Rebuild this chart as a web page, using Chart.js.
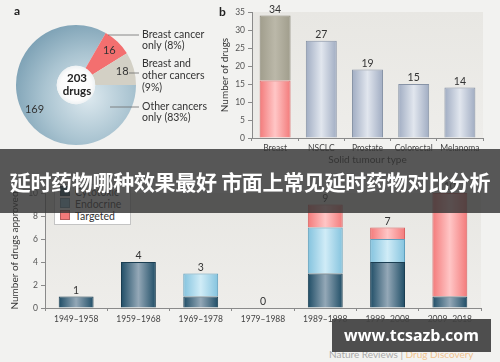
<!DOCTYPE html>
<html>
<head>
<meta charset="utf-8">
<script src="https://cdn.jsdelivr.net/npm/chart.js@4.4.1/dist/chart.umd.min.js"></script>
<style>
  body { margin: 0; width: 500px; height: 362px; background: #f2f2f0; position: relative; overflow: hidden; font-family: Lato, "Open Sans", sans-serif; color: #333; }
  canvas { position: absolute; }
  #pie { left: 0; top: 0; }
  #types { left: 210px; top: 0; }
  #decades { left: 0; top: 150px; }
  .tag { position: absolute; font-weight: bold; font-size: 12px; color: #222; }
  #legend { position: absolute; left: 54px; top: 184px; width: 70px; padding: 1px 0 2px 5px; background: #fff; border: 1px solid #c4c4c4; font-size: 10.5px; line-height: 12px; }
  #legend span.sw { display: inline-block; width: 8px; height: 8px; margin-right: 5px; vertical-align: -0px; border: 1px solid rgba(0,0,0,0.25); }
  #banner { position: absolute; left: 0; top: 149px; width: 500px; height: 64px; background: rgba(52,52,52,0.82); color: #fff; font-family: "Noto Sans CJK SC", sans-serif; font-weight: bold; font-size: 21px; line-height: 64px; text-align: center; white-space: nowrap; letter-spacing: -0.3px; }
  #source { position: absolute; left: 329px; top: 348px; font-size: 10px; color: #a9a9a9; white-space: nowrap; }
  #source b { font-weight: normal; color: #f0c28e; }
  #mark { position: absolute; left: 332px; top: 319px; width: 159px; height: 33px; background: rgba(66,66,66,0.93); color: #fff; font-family: "Open Sans", sans-serif; font-weight: bold; font-size: 16px; line-height: 33px; text-align: center; }
</style>
</head>
<body>
<canvas id="pie" width="215" height="150"></canvas>
<canvas id="types" width="290" height="170"></canvas>
<canvas id="decades" width="500" height="180"></canvas>
<div class="tag" style="left:14px;top:3px;">a</div>
<div class="tag" style="left:219px;top:4px;">b</div>
<div id="legend"></div>
<div id="source">Nature Reviews | <b>Drug Discovery</b></div>
<div id="banner">延时药物哪种效果最好 市面上常见延时药物对比分析</div>
<div id="mark">www.tcsazb.com</div>

<script>
// panel a
const pieLabels = ['Other cancers only (83%)', 'Breast cancer only (8%)', 'Breast and other cancers (9%)'];
const pieValues = [169, 16, 18];

// panel b
const tumourTypes = ['Breast', 'NSCLC', 'Prostate', 'Colorectal', 'Melanoma'];
const tumourDrugs = [16, 27, 19, 15, 14];   // breast: breast-only part
const tumourShared = [18, 0, 0, 0, 0];      // breast and other cancers
const typeTicks = [0, 5, 10, 15, 20, 25, 30, 35];

// panel c
const decades = ['1949–1958', '1959–1968', '1969–1978', '1979–1988', '1989–1998', '1999–2008', '2009–2018'];
const drugClasses = ['Cytotoxic', 'Endocrine', 'Targeted'];
const cytotoxic = [1, 4, 1, 0, 3, 4, 1];
const endocrine = [0, 0, 2, 0, 4, 2, 0];
const targeted = [0, 0, 0, 0, 2, 1, 9];
const decadeTicks = [0, 2, 4, 6, 8, 10];

Chart.defaults.font.family = 'Lato, "Open Sans", sans-serif';
Chart.defaults.color = '#444';

const STEEL = ['#a0acc2', '#e1e6ee', '#8793a6'];
const PINK = ['#f37a7a', '#ffc6c6', '#d96262'];
const OLIVE = ['#a09d8c', '#bbb8a9', '#878473'];
const DARK = ['#1f4d66', '#94a8b7', '#1b3e52'];
const LIGHT = ['#84c3de', '#d0ecf7', '#5f9fbd'];
const classColors = [DARK, LIGHT, PINK];

function barFill(ctx, colors, frac) {
  const chart = ctx.chart;
  const xs = chart.scales.x;
  if (!chart.chartArea || !xs) return colors[0];
  const cx = xs.getPixelForValue(ctx.dataIndex);
  const w = xs.width / chart.data.labels.length * frac;
  const g = chart.ctx.createLinearGradient(cx - w / 2, 0, cx + w / 2, 0);
  g.addColorStop(0, colors[0]);
  g.addColorStop(0.5, colors[1]);
  g.addColorStop(1, colors[0]);
  return g;
}

const plotBack = {
  id: 'plotBack',
  beforeDraw(chart) {
    const a = chart.chartArea;
    const c = chart.ctx;
    const g = c.createLinearGradient(0, a.top, 0, a.bottom);
    g.addColorStop(0, '#e8e7e3');
    g.addColorStop(1, '#eeedea');
    c.save();
    c.fillStyle = g;
    c.fillRect(a.left, a.top, a.width, a.height);
    c.restore();
  }
};

const totals = {
  id: 'totals',
  afterDatasetsDraw(chart, args, opts) {
    const { ctx, scales: { x, y } } = chart;
    ctx.save();
    ctx.font = opts.size + 'px Lato, "Open Sans", sans-serif';
    ctx.fillStyle = '#333';
    ctx.textAlign = 'center';
    ctx.textBaseline = 'alphabetic';
    chart.data.labels.forEach((l, i) => {
      const total = chart.data.datasets.reduce((s, d) => s + (d.data[i] || 0), 0);
      ctx.fillText(String(total), x.getPixelForValue(i), y.getPixelForValue(total) - opts.gap);
    });
    ctx.restore();
  }
};

// ---------- a: doughnut ----------
const pieText = {
  id: 'pieText',
  afterDatasetsDraw(chart) {
    const ctx = chart.ctx;
    const arcs = chart.getDatasetMeta(0).data;
    const first = arcs[0];
    ctx.save();
    // white hole
    const hole = ctx.createRadialGradient(first.x, first.y, 0, first.x, first.y, first.innerRadius);
    hole.addColorStop(0, '#ffffff');
    hole.addColorStop(0.8, '#fbfbfb');
    hole.addColorStop(1, '#eef2f4');
    ctx.fillStyle = hole;
    ctx.beginPath();
    ctx.arc(first.x, first.y, first.innerRadius, 0, Math.PI * 2);
    ctx.fill();

    ctx.fillStyle = '#222';
    ctx.textAlign = 'center';
    ctx.textBaseline = 'middle';
    ctx.font = 'bold 11.5px Lato, sans-serif';
    ctx.fillText('203', first.x + 1, first.y - 7);
    ctx.fillText('drugs', first.x + 1, first.y + 6);

    ctx.font = '11px Lato, sans-serif';
    ctx.fillStyle = '#333';
    arcs.forEach((arc, i) => {
      const mid = (arc.startAngle + arc.endAngle) / 2;
      const r = arc.outerRadius * 0.8;
      ctx.fillText(String(pieValues[i]), arc.x + Math.cos(mid) * r, arc.y + Math.sin(mid) * r);
    });

    // callouts
    ctx.strokeStyle = '#6d6d6d';
    ctx.lineWidth = 0.8;
    const lines = [[108, 35, 139, 35], [129, 73, 139, 73], [110, 107, 139, 107]];
    lines.forEach(l => { ctx.beginPath(); ctx.moveTo(l[0], l[1]); ctx.lineTo(l[2], l[3]); ctx.stroke(); });
    ctx.textAlign = 'left';
    ctx.font = '10.5px Lato, sans-serif';
    const notes = [
      ['Breast cancer', 35], ['only (8%)', 46],
      ['Breast and', 64], ['other cancers', 76], ['(9%)', 88],
      ['Other cancers', 107], ['only (83%)', 118]
    ];
    notes.forEach(n => ctx.fillText(n[0], 142, n[1]));
    ctx.restore();
  }
};

function pieFill(ctx) {
  const chart = ctx.chart;
  const a = chart.chartArea;
  if (!a) return '#9fbccb';
  if (ctx.dataIndex === 1) return '#f36f6f';
  if (ctx.dataIndex === 2) return '#d3d0c5';
  const cx = (a.left + a.right) / 2, cy = (a.top + a.bottom) / 2;
  const g = chart.ctx.createRadialGradient(cx + 12, cy + 12, 0, cx + 12, cy + 12, 80);
  g.addColorStop(0, '#dde9ef');
  g.addColorStop(0.55, '#aac4d1');
  g.addColorStop(1, '#7a9fb3');
  return g;
}

new Chart(document.getElementById('pie'), {
  type: 'doughnut',
  data: {
    labels: pieLabels,
    datasets: [{ data: pieValues, backgroundColor: pieFill, borderWidth: 0 }]
  },
  options: {
    responsive: false,
    animation: false,
    rotation: 90,
    cutout: '32%',
    layout: { padding: { left: 16, top: 25, right: 79, bottom: 5 } },
    plugins: { legend: { display: false }, tooltip: { enabled: false } }
  },
  plugins: [pieText]
});

// ---------- b: drugs per tumour type ----------
const axisGrid = { display: true, drawOnChartArea: false, color: '#8a8a8a', tickLength: 4 };
const axisBorder = { display: true, color: '#8a8a8a', width: 1 };

new Chart(document.getElementById('types'), {
  type: 'bar',
  data: {
    labels: tumourTypes,
    datasets: [{
      label: 'Drugs',
      data: tumourDrugs,
      backgroundColor: c => barFill(c, c.dataIndex === 0 ? PINK : STEEL, 0.67),
      borderColor: c => (c.dataIndex === 0 ? PINK : STEEL)[2],
      borderWidth: 1,
      barPercentage: 0.67,
      categoryPercentage: 1
    }, {
      label: 'Breast and other cancers',
      data: tumourShared,
      backgroundColor: c => barFill(c, OLIVE, 0.67),
      borderColor: OLIVE[2],
      borderWidth: c => (c.raw ? 1 : 0),
      barPercentage: 0.67,
      categoryPercentage: 1
    }]
  },
  options: {
    responsive: false,
    animation: false,
    layout: { padding: { top: 12, right: 17, left: 0, bottom: 0 } },
    scales: {
      x: {
        stacked: true,
        grid: { display: true, drawOnChartArea: false, color: '#8a8a8a', tickLength: 3 },
        border: axisBorder,
        ticks: { font: { size: 8.5 }, color: '#444', padding: 2, maxRotation: 0, autoSkip: false },
        title: { display: true, text: 'Solid tumour type', font: { size: 10 }, color: '#333', padding: { top: 0, bottom: 4 } },
        afterFit: s => { s.height = 32; }
      },
      y: {
        stacked: true,
        min: 0,
        max: 35,
        afterBuildTicks: s => { s.ticks = typeTicks.map(v => ({ value: v })); },
        grid: axisGrid,
        border: axisBorder,
        ticks: { font: { size: 8.5 }, color: '#555', padding: 3 },
        title: { display: true, text: 'Number of drugs', font: { size: 10 }, color: '#333', padding: { top: 9, bottom: 0 } },
        afterFit: s => { s.width = 42; }
      }
    },
    plugins: { legend: { display: false }, tooltip: { enabled: false }, totals: { size: 10.5, gap: 3 } }
  },
  plugins: [plotBack, totals]
});

// ---------- c: approvals by decade ----------
const classSeries = [cytotoxic, endocrine, targeted];

new Chart(document.getElementById('decades'), {
  type: 'bar',
  data: {
    labels: decades,
    datasets: classSeries.map((vals, k) => ({
      label: drugClasses[k],
      data: vals,
      backgroundColor: c => barFill(c, classColors[k], 0.56),
      borderColor: classColors[k][2],
      borderWidth: c => (c.raw ? 1 : 0),
      barPercentage: 0.56,
      categoryPercentage: 1
    }))
  },
  options: {
    responsive: false,
    animation: false,
    layout: { padding: { top: 43, right: 19, left: 0, bottom: 0 } },
    scales: {
      x: {
        stacked: true,
        grid: { display: true, drawOnChartArea: false, color: '#8a8a8a', tickLength: 3 },
        border: axisBorder,
        ticks: { font: { size: 8.5 }, color: '#444', padding: 3, maxRotation: 0, autoSkip: false },
        afterFit: s => { s.height = 22; }
      },
      y: {
        stacked: true,
        min: 0,
        max: 10,
        afterBuildTicks: s => { s.ticks = decadeTicks.map(v => ({ value: v })); },
        grid: axisGrid,
        border: axisBorder,
        ticks: { font: { size: 8.5 }, color: '#555', padding: 3 },
        title: { display: true, text: 'Number of drugs approved', font: { size: 10 }, color: '#333', padding: { top: 9, bottom: 0 } },
        afterFit: s => { s.width = 45; }
      }
    },
    plugins: { legend: { display: false }, tooltip: { enabled: false }, totals: { size: 10.5, gap: 3 } }
  },
  plugins: [plotBack, totals]
});

// legend for panel c
const legend = document.getElementById('legend');
drugClasses.forEach((name, k) => {
  const row = document.createElement('div');
  row.innerHTML = '<span class="sw" style="background:' + classColors[k][0] + '"></span>' + name;
  legend.appendChild(row);
});
</script>
</body>
</html>
